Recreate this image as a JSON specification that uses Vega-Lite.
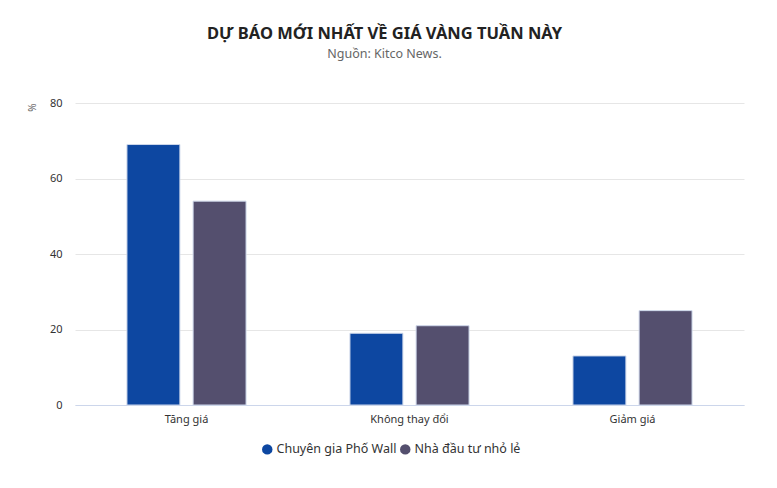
{
  "$schema": "https://vega.github.io/schema/vega-lite/v6.json",
  "width": 669,
  "height": 302,
  "autosize": "none",
  "padding": {"left": 75, "top": 103, "right": 33, "bottom": 83},
  "background": "white",
  "title": {
    "text": "DỰ BÁO MỚI NHẤT VỀ GIÁ VÀNG TUẦN NÀY",
    "subtitle": "Nguồn: Kitco News.",
    "anchor": "middle",
    "frame": "group",
    "dx": -25,
    "offset": 37,
    "font": "Noto Sans",
    "fontSize": 16.5,
    "fontWeight": "bold",
    "color": "#222222",
    "subtitleFont": "Noto Sans",
    "subtitleFontSize": 12.5,
    "subtitleColor": "#666666",
    "subtitlePadding": 5
  },
  "data": {
    "values": [
      {"category": "Tăng giá", "series": "Chuyên gia Phố Wall", "value": 69},
      {"category": "Tăng giá", "series": "Nhà đầu tư nhỏ lẻ", "value": 54},
      {"category": "Không thay đổi", "series": "Chuyên gia Phố Wall", "value": 19},
      {"category": "Không thay đổi", "series": "Nhà đầu tư nhỏ lẻ", "value": 21},
      {"category": "Giảm giá", "series": "Chuyên gia Phố Wall", "value": 13},
      {"category": "Giảm giá", "series": "Nhà đầu tư nhỏ lẻ", "value": 25}
    ]
  },
  "mark": {"type": "bar", "stroke": "#cdd7ea", "strokeWidth": 1},
  "encoding": {
    "x": {
      "field": "category",
      "type": "nominal",
      "sort": ["Tăng giá", "Không thay đổi", "Giảm giá"],
      "scale": {"paddingInner": 0.466, "paddingOuter": 0.233},
      "axis": {
        "title": null,
        "labelAngle": 0,
        "labelFont": "Noto Sans",
        "labelFontSize": 11,
        "labelColor": "#333333",
        "labelPadding": 8,
        "domainColor": "#ccd6eb",
        "ticks": false,
        "grid": false
      }
    },
    "xOffset": {
      "field": "series",
      "type": "nominal",
      "scale": {"paddingInner": 0.2, "paddingOuter": 0}
    },
    "y": {
      "field": "value",
      "type": "quantitative",
      "scale": {"domain": [0, 80]},
      "axis": {
        "title": "%",
        "titleAnchor": "end",
        "titleFont": "Noto Sans",
        "titleFontSize": 10,
        "titleFontWeight": "normal",
        "titleColor": "#666666",
        "titlePadding": 12,
        "values": [0, 20, 40, 60, 80],
        "labelFont": "Noto Sans",
        "labelFontSize": 11,
        "labelColor": "#333333",
        "labelPadding": 13,
        "domain": false,
        "ticks": false,
        "gridColor": "#e6e6e6"
      }
    },
    "color": {
      "field": "series",
      "type": "nominal",
      "scale": {
        "domain": ["Chuyên gia Phố Wall", "Nhà đầu tư nhỏ lẻ"],
        "range": ["#0d47a1", "#544f6e"]
      },
      "legend": {
        "title": null,
        "orient": "none",
        "direction": "horizontal",
        "legendX": 186,
        "legendY": 340,
        "symbolType": "circle",
        "symbolSize": 110,
        "symbolStrokeWidth": 0,
        "labelFont": "Noto Sans",
        "labelFontSize": 12.5,
        "labelColor": "#333333",
        "columnPadding": 2,
        "labelOffset": 3
      }
    }
  },
  "config": {"view": {"stroke": null}}
}
